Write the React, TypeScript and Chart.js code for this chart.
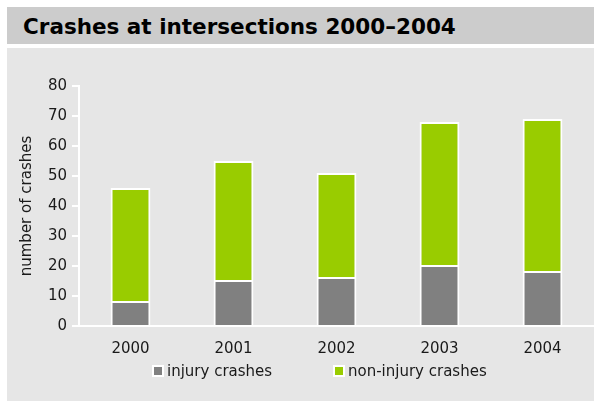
import React, { useEffect, useRef } from "react";
import { Chart, registerables } from "chart.js";

Chart.register(...registerables);

const years = ["2000", "2001", "2002", "2003", "2004"];
const injuryCrashes = [8, 15, 16, 20, 18];
const nonInjuryCrashes = [38, 40, 35, 48, 51];
const seriesLabels = ["injury crashes", "non-injury crashes"];
const yTicks = { min: 0, max: 80, step: 10 };

const FONT = "'DejaVu Sans', Verdana, sans-serif";

// simple legend drawn below the plot, spaced like the original
const legendPlugin = {
  id: "customLegend",
  afterDraw(chart: any) {
    const ctx = chart.ctx;
    const ds = chart.data.datasets;
    const starts = [153, 334];
    const y = 371;
    ctx.save();
    ctx.font = `15px ${FONT}`;
    ctx.textBaseline = "middle";
    ctx.textAlign = "left";
    ds.forEach((d: any, i: number) => {
      const x = starts[i];
      ctx.fillStyle = "#ffffff";
      ctx.fillRect(x - 1, y - 6, 12, 12);
      ctx.fillStyle = d.backgroundColor;
      ctx.fillRect(x + 1, y - 4, 8, 8);
      ctx.fillStyle = "#1a1a1a";
      ctx.fillText(d.label, x + 14, y + 1);
    });
    ctx.restore();
  },
};

export default function App() {
  const ref = useRef<HTMLCanvasElement | null>(null);

  useEffect(() => {
    document.body.style.margin = "0";
    const ctx = ref.current!;
    const chart = new Chart(ctx, {
      type: "bar",
      data: {
        labels: years,
        datasets: [
          {
            label: seriesLabels[0],
            data: injuryCrashes,
            backgroundColor: "#808080",
            borderColor: "#ffffff",
            borderWidth: { top: 1, left: 2, right: 2, bottom: 0 } as any,
            borderSkipped: false,
          },
          {
            label: seriesLabels[1],
            data: nonInjuryCrashes,
            backgroundColor: "#99cc00",
            borderColor: "#ffffff",
            borderWidth: { top: 2, left: 2, right: 2, bottom: 1 } as any,
            borderSkipped: false,
          },
        ],
      },
      options: {
        animation: false,
        responsive: false,
        maintainAspectRatio: false,
        layout: { padding: { top: 86, right: 0, left: 0, bottom: 39 } },
        datasets: { bar: { categoryPercentage: 1, barPercentage: 0.387 } },
        plugins: {
          title: { display: false },
          tooltip: { enabled: false },
          legend: { display: false },
        },
        scales: {
          x: {
            stacked: true,
            grid: { display: false, drawTicks: false },
            border: { display: true, color: "#ffffff", width: 2 },
            ticks: {
              font: { family: FONT, size: 15 },
              color: "#1a1a1a",
              padding: 14,
            },
            afterFit: (s: any) => {
              s.height = 36;
            },
          },
          y: {
            stacked: true,
            min: yTicks.min,
            max: yTicks.max,
            grid: {
              drawOnChartArea: false,
              drawTicks: true,
              tickLength: 7,
              color: "#ffffff",
              lineWidth: 2,
            },
            border: { display: true, color: "#ffffff", width: 2 },
            ticks: {
              stepSize: yTicks.step,
              font: { family: FONT, size: 15 },
              color: "#1a1a1a",
              padding: 5,
            },
            title: {
              display: true,
              text: "number of crashes",
              font: { family: FONT, size: 15 },
              color: "#1a1a1a",
              padding: { top: 18, bottom: 0 },
            },
            afterFit: (s: any) => {
              s.width = 79;
            },
          },
        },
      },
      plugins: [legendPlugin],
    });
    return () => chart.destroy();
  }, []);

  return (
    <div style={{ position: "fixed", left: 0, top: 0, width: 594, height: 401, background: "#ffffff" }}>
      <div
        style={{
          position: "absolute",
          left: 7,
          top: 7,
          width: 587,
          height: 37,
          background: "#cccccc",
        }}
      >
        <div
          style={{
            position: "absolute",
            left: 16,
            top: 1,
            height: 37,
            lineHeight: "37px",
            fontFamily: FONT,
            fontWeight: "bold",
            fontSize: 21.5,
            color: "#000000",
            whiteSpace: "nowrap",
          }}
        >
          Crashes at intersections 2000–2004
        </div>
      </div>
      <div
        style={{
          position: "absolute",
          left: 7,
          top: 48,
          width: 587,
          height: 353,
          background: "#e6e6e6",
        }}
      />
      <canvas
        ref={ref}
        width={594}
        height={401}
        style={{ position: "absolute", left: 0, top: 0, width: 594, height: 401 }}
      />
    </div>
  );
}
